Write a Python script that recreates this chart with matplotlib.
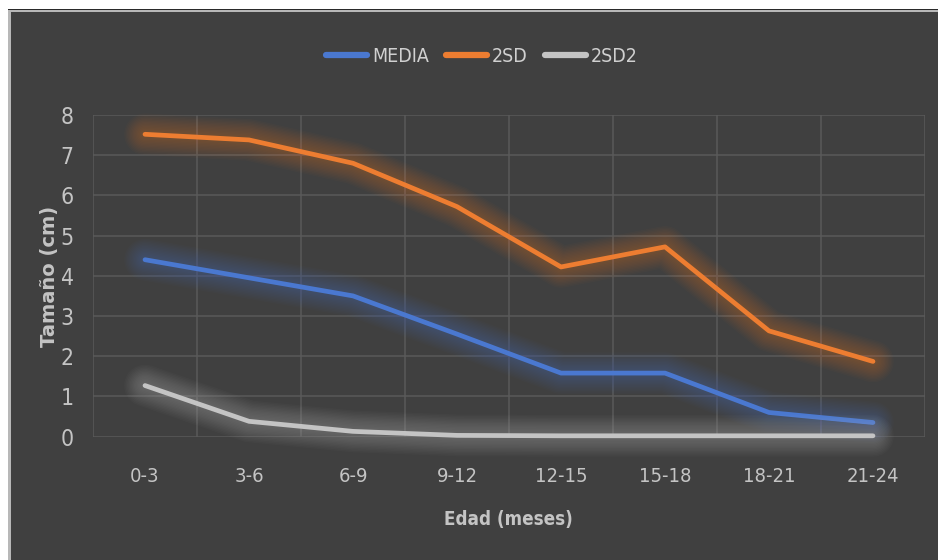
import matplotlib
matplotlib.use("Agg")
import matplotlib.pyplot as plt
from matplotlib import patheffects as pe
from matplotlib.lines import Line2D
from matplotlib.patches import Rectangle
from matplotlib import font_manager as fm

# Data
categories = ["0-3", "3-6", "6-9", "9-12", "12-15", "15-18", "18-21", "21-24"]
media = [4.40, 3.95, 3.50, 2.55, 1.58, 1.58, 0.60, 0.35]
sd_upper = [7.52, 7.38, 6.80, 5.72, 4.22, 4.72, 2.63, 1.87]
sd_lower = [1.27, 0.38, 0.13, 0.03, 0.02, 0.02, 0.02, 0.02]
series_names = ["MEDIA", "2SD", "2SD2"]
y_ticks = [0, 1, 2, 3, 4, 5, 6, 7, 8]

colors = ["#4a78d0", "#ed7d31", "#c4c4c4"]
text_color = "#c4c4c4"

installed = {f.name for f in fm.fontManager.ttflist}
if "Liberation Sans Narrow" in installed:
    narrow = dict(family="Liberation Sans Narrow")
else:
    narrow = dict(family="DejaVu Sans", stretch="condensed")

W, H = 938, 560
fig = plt.figure(figsize=(W / 100, H / 100), dpi=100, facecolor="white")

# dark panel with a thin frame on the top and left
fig.patches.append(Rectangle((8 / W, 0), 1 - 8 / W, 1 - 9 / H, transform=fig.transFigure,
                             facecolor="#b8b8b8", edgecolor="none", zorder=-10))
fig.patches.append(Rectangle((8 / W, 1 - 10 / H), 1 - 8 / W, 1 / H, transform=fig.transFigure,
                             facecolor="#2a2a2a", edgecolor="none", zorder=-10))
fig.patches.append(Rectangle((11 / W, 0), 1 - 11 / W, 1 - 12 / H, transform=fig.transFigure,
                             facecolor="#404040", edgecolor="none", zorder=-10))

ax = fig.add_axes([93 / W, 1 - 436.6 / H, 832 / W, (436.6 - 115) / H])
ax.set_facecolor("none")

x = list(range(len(categories)))


def glow(color):
    effects = []
    for w in range(30, 4, -2):
        effects.append(pe.Stroke(linewidth=w, foreground=color, alpha=0.028))
    effects.append(pe.Normal())
    return effects


for vals, name, col in zip([media, sd_upper, sd_lower], series_names, colors):
    ax.plot(x, vals, color=col, lw=3.4, solid_capstyle="round", solid_joinstyle="round",
            path_effects=glow(col), label=name, zorder=3, clip_on=False)

ax.set_xlim(-0.5, len(categories) - 0.5)
ax.set_ylim(0, 8)
ax.set_yticks(y_ticks)
ax.set_yticklabels([str(v) for v in y_ticks])
ax.set_xticks(x)
ax.set_xticklabels(categories)

for s in ax.spines.values():
    s.set_visible(False)
ax.grid(False)
for v in [i - 0.5 for i in range(len(categories) + 1)]:
    ax.axvline(v, color="#5a5a5a", lw=1.1, zorder=1)
for v in y_ticks:
    ax.axhline(v, color="#5a5a5a", lw=1.1, zorder=1)

ax.tick_params(axis="both", which="both", length=0)
ax.tick_params(axis="x", pad=22)
ax.tick_params(axis="y", pad=14)
for lab in ax.get_xticklabels():
    lab.set(**narrow)
    lab.set_fontsize(14.5)
    lab.set_color(text_color)
for lab in ax.get_yticklabels():
    lab.set(**narrow)
    lab.set_fontsize(16.5)
    lab.set_color(text_color)

fig.text(50 / W, 1 - 276 / H, "Tamaño (cm)", rotation=90, ha="center", va="center",
         fontsize=14, fontweight="bold", color=text_color, family="DejaVu Sans")
fig.text(508 / W, 1 - 520 / H, "Edad (meses)", ha="center", va="center",
         fontsize=13.5, fontweight="bold", color=text_color, **narrow)

handles = [Line2D([0], [0], color=c, lw=4.5, solid_capstyle="round") for c in colors]
leg = fig.legend(handles, series_names, loc="center", bbox_to_anchor=(482 / W, 1 - 56 / H),
                 ncol=3, frameon=False, handlelength=2.1, handletextpad=0.25,
                 columnspacing=0.9,
                 prop=fm.FontProperties(size=14, **narrow))
for t in leg.get_texts():
    t.set_color("#d0d0d0")

fig.savefig("out.png", dpi=100, facecolor="white")
